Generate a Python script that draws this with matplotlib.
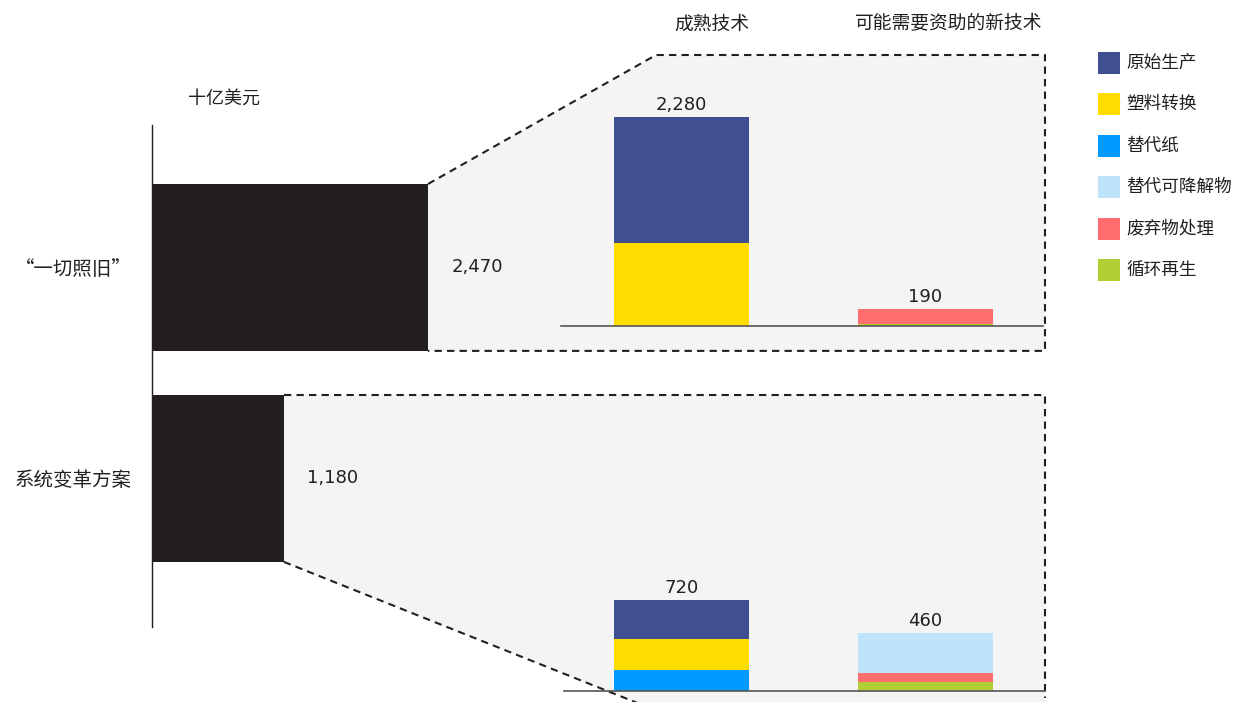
import matplotlib.pyplot as plt
from matplotlib.patches import Polygon, Rectangle
import numpy as np

plt.rcParams['font.family'] = ['Noto Sans CJK SC', 'DejaVu Sans']

W, H = 1234, 702
TXT = '#231f20'
NUM_FONT = 'DejaVu Sans'

# Data
scenarios = ['“一切照旧”', '系统变革方案']
scenario_totals = [2470, 1180]
tech_groups = ['成熟技术', '可能需要资助的新技术']
segments = ['原始生产', '塑料转换', '替代纸', '替代可降解物', '废弃物处理', '循环再生']
seg_colors = ['#404f91', '#ffdd00', '#0099ff', '#bde4fb', '#ff6e6e', '#b0cf34']
# stacking order, bottom -> top
stack_order = ['循环再生', '废弃物处理', '替代纸', '塑料转换', '原始生产', '替代可降解物']
bau_values = {  # [成熟技术, 新技术]
    '原始生产': [1370, 0],
    '塑料转换': [910, 0],
    '替代纸': [0, 0],
    '替代可降解物': [0, 0],
    '废弃物处理': [0, 170],
    '循环再生': [0, 20],
}
sys_values = {
    '原始生产': [310, 0],
    '塑料转换': [245, 0],
    '替代纸': [165, 0],
    '替代可降解物': [0, 315],
    '废弃物处理': [0, 75],
    '循环再生': [0, 70],
}
bau_totals = [2280, 190]
sys_totals = [720, 460]
unit_label = '十亿美元'

color_of = dict(zip(segments, seg_colors))


def px_rect(x0, y0, x1, y1):
    return [x0 / W, 1 - y1 / H, (x1 - x0) / W, (y1 - y0) / H]


fig = plt.figure(figsize=(W / 100, H / 100), dpi=100)

# background axes in pixel units, for the zoom panels
bg = fig.add_axes([0, 0, 1, 1], zorder=0)
bg.set_xlim(0, W)
bg.set_ylim(H, 0)
bg.axis('off')

# left horizontal bars
ax = fig.add_axes(px_rect(152, 125, 428, 627), zorder=2)
ax.barh(range(len(scenarios)), scenario_totals, height=0.791, color='#231f20')
ax.set_xlim(0, 2470)
ax.set_ylim(1.704, -0.675)
ax.patch.set_alpha(0)
for s in ['top', 'right', 'bottom']:
    ax.spines[s].set_visible(False)
ax.spines['left'].set_color('#231f20')
ax.spines['left'].set_linewidth(1)
ax.set_xticks([])
ax.set_yticks(range(len(scenarios)))
ax.set_yticklabels(scenarios, fontsize=14, color=TXT, ha='center', fontweight='medium')
ax.tick_params(axis='y', length=0, pad=57)
for i, v in enumerate(scenario_totals):
    ax.annotate(f'{v:,}', (v, i), xytext=(17, 0), textcoords='offset points',
                va='center', ha='left', fontsize=13, color=TXT, family=NUM_FONT)
fig.text(188 / W, 1 - 99 / H, unit_label, fontsize=13, color=TXT, va='center', ha='left',
         fontweight='medium')


def to_px(axis, x, y):
    dx, dy = axis.transData.transform((x, y))
    return dx, H - dy


bh = 0.791 / 2
top_tr = to_px(ax, scenario_totals[0], 0 - bh)
top_br = to_px(ax, scenario_totals[0], 0 + bh)
bot_tr = to_px(ax, scenario_totals[1], 1 - bh)
bot_br = to_px(ax, scenario_totals[1], 1 + bh)

panel_right = 1045
dash = dict(color='#231f20', lw=1.5, linestyle=(0, (3.5, 2.5)))

# top panel
top_pts = [top_tr, (656, 55), (panel_right, 55), (panel_right, top_br[1]), top_br]
bg.add_patch(Polygon(top_pts, closed=True, facecolor='#f4f4f4', edgecolor='none'))
bg.plot([top_tr[0], 656, panel_right, panel_right, top_br[0]],
        [top_tr[1], 55, 55, top_br[1], top_br[1]], **dash)

# bottom panel
slope = 0.399
end_x = bot_br[0] + (H + 8 - bot_br[1]) / slope
bot_pts = [bot_tr, (panel_right, bot_tr[1]), (panel_right, H + 8), (end_x, H + 8), bot_br]
bg.add_patch(Polygon(bot_pts, closed=True, facecolor='#f4f4f4', edgecolor='none'))
bg.plot([bot_tr[0], panel_right, panel_right], [bot_tr[1], bot_tr[1], H - 4], **dash)
bg.plot([bot_br[0], end_x], [bot_br[1], H + 8], **dash)


def stacked(rect, values, totals, ymax, xl):
    a = fig.add_axes(px_rect(*rect), zorder=2)
    a.patch.set_alpha(0)
    x = np.arange(len(tech_groups))
    bottom = np.zeros(len(tech_groups))
    for seg in stack_order:
        vals = np.array(values[seg], dtype=float)
        a.bar(x, vals, bottom=bottom, width=0.553, color=color_of[seg])
        bottom += vals
    for i, t in enumerate(totals):
        a.annotate(f'{t:,}', (x[i], bottom[i]), xytext=(0, 2), textcoords='offset points',
                   ha='center', va='bottom', fontsize=13, color=TXT, family=NUM_FONT)
    a.set_xlim(*xl)
    a.set_ylim(0, ymax)
    for s in ['top', 'right', 'left']:
        a.spines[s].set_visible(False)
    a.spines['bottom'].set_color('#555555')
    a.spines['bottom'].set_linewidth(1.2)
    a.set_xticks([])
    a.set_yticks([])
    return a


stacked((561, 55, 1043, 326), bau_values, bau_totals, 271 / (209 / 2280), (-0.494, 1.482))
stacked((564, 395, 1045, 691), sys_values, sys_totals, 296 / (91 / 720), (-0.482, 1.49))

# column headers
for cx, label in zip([712, 949], tech_groups):
    fig.text(cx / W, 1 - 24 / H, label, fontsize=13.5, color=TXT, ha='center', va='center',
             fontweight='medium')

# legend
for i, (seg, col) in enumerate(zip(segments, seg_colors)):
    cy = 63 + i * 41.4
    bg.add_patch(Rectangle((1098, cy - 11), 22, 22, facecolor=col, edgecolor='none'))
    bg.text(1126, cy, seg, fontsize=12.7, color=TXT, va='center', ha='left', fontweight='medium')

fig.savefig('out.png', dpi=100)
